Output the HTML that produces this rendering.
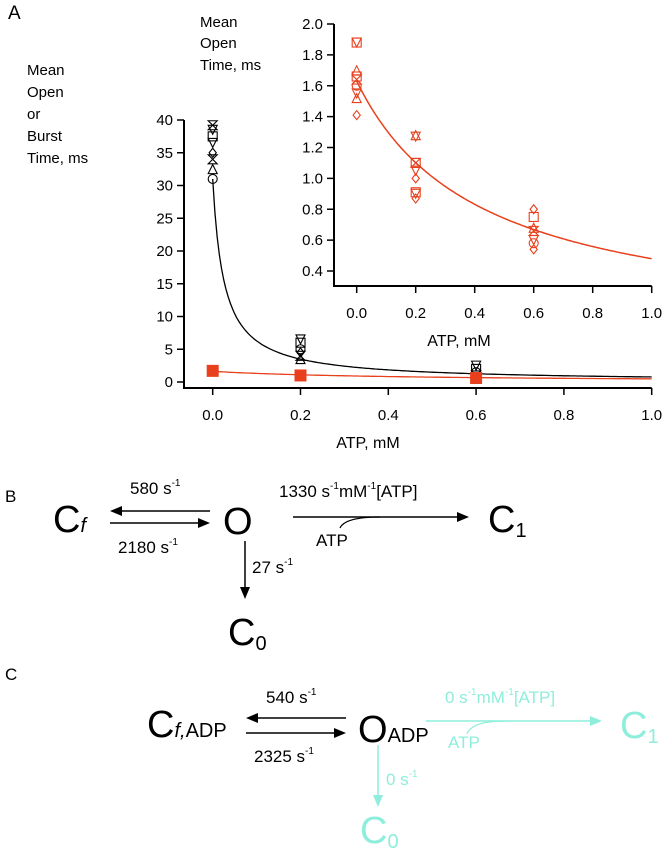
<!DOCTYPE html>
<html><head><meta charset="utf-8"><style>
html,body{margin:0;padding:0;background:#fff;}
svg{display:block;font-family:"Liberation Sans",Arial,sans-serif;}
</style></head><body>
<svg id="fig" width="666" height="852" viewBox="0 0 666 852">
<g id="panelA">
<text x="8" y="19" font-size="19">A</text>
<g font-size="15">
<text x="27" y="75">Mean</text><text x="27" y="97">Open</text><text x="27" y="119">or</text><text x="27" y="141">Burst</text><text x="27" y="163">Time, ms</text></g>
<g font-size="15">
<text x="200" y="27">Mean</text><text x="200" y="48">Open</text><text x="200" y="70">Time, ms</text></g>
<g id="mainAx"></g><g id="insetAx"></g>
</g>
<g id="panelB" fill="#000">
<text x="5" y="502" font-size="17">B</text>
<text x="53" y="532" font-size="38">C<tspan font-size="20" font-style="italic">f</tspan></text>
<line x1="114" y1="511" x2="210" y2="511" stroke="#000" stroke-width="1.5"/><path d="M110 511 L122 506 L122 516 Z"/>
<line x1="110" y1="523" x2="204" y2="523" stroke="#000" stroke-width="1.5"/><path d="M210 523 L198 518 L198 528 Z"/>
<text x="130" y="494" font-size="17">580 s<tspan font-size="10" dy="-8">-1</tspan></text>
<text x="118" y="553" font-size="17">2180 s<tspan font-size="10" dy="-8">-1</tspan></text>
<text x="223" y="534" font-size="38">O</text>
<line x1="245" y1="541" x2="245" y2="592" stroke="#000" stroke-width="1.5"/><path d="M245 599 L240 587 L250 587 Z"/>
<text x="252" y="573" font-size="17">27 s<tspan font-size="10" dy="-8">-1</tspan></text>
<text x="228" y="645" font-size="38">C<tspan font-size="20" dy="5">0</tspan></text>
<line x1="293" y1="517" x2="462" y2="517" stroke="#000" stroke-width="1.5"/><path d="M469 517 L457 512 L457 522 Z"/>
<path d="M340 528 Q345 517 380 517" fill="none" stroke="#000" stroke-width="1.2"/>
<text x="279" y="497" font-size="17">1330 s<tspan font-size="10" dy="-8">-1</tspan><tspan dy="8">mM</tspan><tspan font-size="10" dy="-8">-1</tspan><tspan dy="8">[ATP]</tspan></text>
<text x="316" y="546" font-size="17">ATP</text>
<text x="488" y="532" font-size="38">C<tspan font-size="20" dy="5">1</tspan></text>
</g>
<g id="panelC">
<text x="5" y="680" font-size="17">C</text>
<text x="147" y="737" font-size="38">C<tspan font-size="20" font-style="italic">f,</tspan><tspan font-size="20">ADP</tspan></text>
<line x1="250" y1="718" x2="346" y2="718" stroke="#000" stroke-width="1.5"/><path d="M246 718 L258 713 L258 723 Z"/>
<line x1="246" y1="733" x2="340" y2="733" stroke="#000" stroke-width="1.5"/><path d="M346 733 L334 728 L334 738 Z"/>
<text x="266" y="703" font-size="17">540 s<tspan font-size="10" dy="-8">-1</tspan></text>
<text x="254" y="762" font-size="17">2325 s<tspan font-size="10" dy="-8">-1</tspan></text>
<text x="358" y="742" font-size="38">O<tspan font-size="20">ADP</tspan></text>
<g fill="#8eeedb" stroke="none">
<line x1="426" y1="721" x2="596" y2="721" stroke="#8eeedb" stroke-width="1.5"/><path d="M602 721 L590 716 L590 726 Z"/>
<path d="M467 734 Q472 721 505 721" fill="none" stroke="#8eeedb" stroke-width="1.2"/>
<text x="445" y="703" font-size="17">0 s<tspan font-size="10" dy="-8">-1</tspan><tspan dy="8">mM</tspan><tspan font-size="10" dy="-8">-1</tspan><tspan dy="8">[ATP]</tspan></text>
<text x="448" y="748" font-size="17">ATP</text>
<text x="620" y="738" font-size="38">C<tspan font-size="20" dy="5">1</tspan></text>
<line x1="378" y1="745" x2="378" y2="800" stroke="#8eeedb" stroke-width="1.5"/><path d="M378 807 L373 795 L383 795 Z"/>
<text x="386" y="785" font-size="17">0 s<tspan font-size="10" dy="-8">-1</tspan></text>
<text x="360" y="843" font-size="38">C<tspan font-size="20" dy="5">0</tspan></text>
</g></g>
</svg>
<script>
// Data
const xTicks=[0,0.2,0.4,0.6,0.8,1.0];
const mainYTicks=[0,5,10,15,20,25,30,35,40];
const insetYTicks=[0.4,0.6,0.8,1.0,1.2,1.4,1.6,1.8,2.0];
const burstX=[0,0,0,0,0,0,0,0,0.2,0.2,0.2,0.2,0.2,0.2,0.6,0.6,0.6,0.6,0.6];
const burstY=[39.2,38.5,37.5,36.5,35,34,32.5,31,6.5,6,5,4.5,4,3.5,2.5,2,1.5,1,0.5];
const burstShape=['h','v','s','v','d','h','t','c','v','s','c','d','h','t','v','s','c','h','h'];
const meanX=[0,0.2,0.6];
const meanY=[1.7,1.0,0.62];
const openX=[0,0,0,0,0,0,0,0,0,0.2,0.2,0.2,0.2,0.2,0.2,0.2,0.2,0.2,0.6,0.6,0.6,0.6,0.6,0.6,0.6];
const openY=[1.88,1.88,1.70,1.66,1.64,1.60,1.55,1.52,1.41,1.28,1.27,1.10,1.10,1.05,1.00,0.91,0.90,0.87,0.80,0.75,0.68,0.66,0.60,0.58,0.54];
const openShape=['s','v','t','s','h','c','v','t','d','t','v','s','h','v','d','s','v','d','d','s','t','h','v','c','d'];
const burstFit=[31.0,0.0254]; // amplitude, K
const openFit=[1.63,0.417];

const NS='http://www.w3.org/2000/svg';
function mk(tag,attrs,parent){const e=document.createElementNS(NS,tag);for(const k in attrs)e.setAttribute(k,attrs[k]);parent.appendChild(e);return e;}
function marker(g,shape,cx,cy,col,r){
  let e;
  if(shape==='s')e=mk('rect',{x:cx-r,y:cy-r,width:2*r,height:2*r},g);
  else if(shape==='c')e=mk('circle',{cx:cx,cy:cy,r:r},g);
  else if(shape==='t')e=mk('path',{d:`M${cx} ${cy-r}L${cx+r} ${cy+r}L${cx-r} ${cy+r}Z`},g);
  else if(shape==='v')e=mk('path',{d:`M${cx-r} ${cy-r}L${cx+r} ${cy-r}L${cx} ${cy+r}Z`},g);
  else if(shape==='d')e=mk('path',{d:`M${cx} ${cy-r}L${cx+r*0.8} ${cy}L${cx} ${cy+r}L${cx-r*0.8} ${cy}Z`},g);
  else e=mk('path',{d:`M${cx-r} ${cy-r}L${cx+r} ${cy-r}L${cx-r} ${cy+r}L${cx+r} ${cy+r}Z`},g);
  e.setAttribute('fill','none');e.setAttribute('stroke',col);e.setAttribute('stroke-width','1.1');
  
  
}
function axes(g,o){
  const sx=v=>o.x0+(v-0)*(o.x1-o.x0)/1.0;
  const sy=v=>o.yb+(v-o.ymin)*(o.yt-o.yb)/(o.ymax-o.ymin);
  const ax=mk('path',{d:`M${o.axX} ${sy(o.ymax)}L${o.axX} ${o.axY}L${o.x1} ${o.axY}`,fill:'none',stroke:'#000','stroke-width':2},g);
  
  
  xTicks.forEach(t=>{mk('line',{x1:sx(t),x2:sx(t),y1:o.axY,y2:o.axY+7,stroke:'#000','stroke-width':1.5},g);
    const tx=mk('text',{x:sx(t),y:o.axY+32,'font-size':15,'text-anchor':'middle'},g);tx.textContent=t.toFixed(1);
    
    });
  o.yticks.forEach(t=>{mk('line',{x1:o.axX-7,x2:o.axX,y1:sy(t),y2:sy(t),stroke:'#000','stroke-width':1.5},g);
    const tx=mk('text',{x:o.axX-11,y:sy(t)+5,'font-size':15,'text-anchor':'end'},g);tx.textContent=o.fmt(t);
    
    });
  const xt=mk('text',{x:o.xtx,y:o.axY+60,'font-size':16,'text-anchor':'middle'},g);xt.textContent='ATP, mM';
  
  
  return [sx,sy];
}
function curve(g,fit,sx,sy,col,w,ymax){
  let d='';for(let i=0;i<=200;i++){const x=i/200;const y=fit[0]/(1+x/fit[1]);if(y>ymax)continue;d+=(d?'L':'M')+sx(x).toFixed(1)+' '+sy(y).toFixed(1);}
  const p=mk('path',{d:d,fill:'none',stroke:col,'stroke-width':w},g);
  
  
}
// main
const mg=document.getElementById('mainAx');
const [msx,msy]=axes(mg,{x0:212.7,x1:651.7,yb:382,yt:120,ymin:0,ymax:40,axX:184,axY:388,yticks:mainYTicks,fmt:t=>String(t),xtx:368});
curve(mg,burstFit,msx,msy,'#000',1.3,40);
curve(mg,openFit,msx,msy,'#e8401c',1.3,40);
burstX.forEach((x,i)=>marker(mg,burstShape[i],msx(x),msy(burstY[i]),'#000',4.5));
meanX.forEach((x,i)=>{const r=mk('rect',{x:msx(x)-6,y:msy(meanY[i])-6,width:12,height:12,fill:'#e8401c'},mg);
  
  });
// inset
const ig=document.getElementById('insetAx');
const [isx,isy]=axes(ig,{x0:356.7,x1:651.7,yb:271,yt:24,ymin:0.4,ymax:2.0,axX:334,axY:286,yticks:insetYTicks,fmt:t=>t.toFixed(1),xtx:459});
curve(ig,openFit,isx,isy,'#e8401c',1.5,2);
openX.forEach((x,i)=>marker(ig,openShape[i],isx(x),isy(openY[i]),'#e8401c',4.5));
</script>
</body></html>
